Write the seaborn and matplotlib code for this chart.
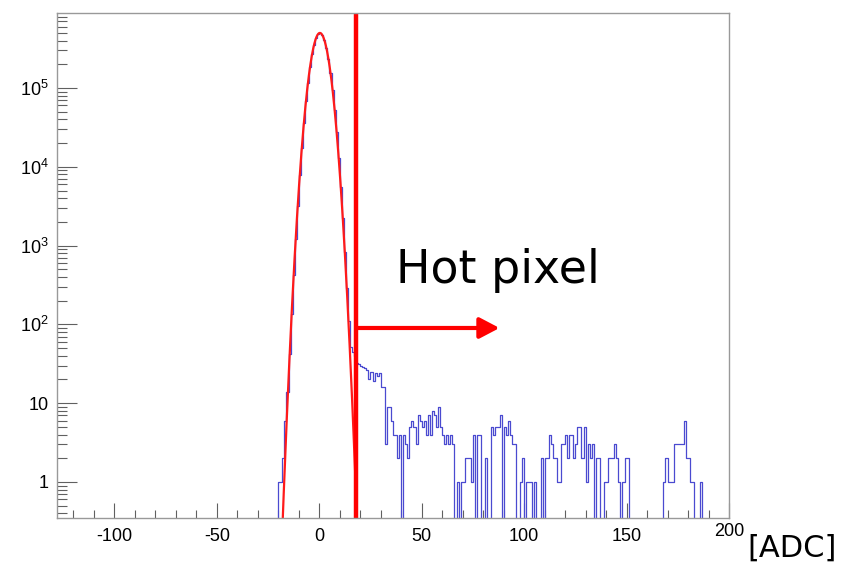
import numpy as np
import pandas as pd
import matplotlib
matplotlib.use("Agg")
import matplotlib.pyplot as plt
import matplotlib.transforms as mtransforms
from matplotlib.ticker import FixedLocator, FixedFormatter, MultipleLocator, LogLocator, NullFormatter
import seaborn as sns

# ---------------- data ----------------
hist_low = -128          # first bin edge [ADC]
hist_high = 200          # last bin edge [ADC]
# bins -128 .. -21 : empty
counts_left = [0] * 108
# bins -20 .. 16 : pedestal peak
counts_core = [1, 1, 2, 6, 14, 42, 135, 420, 1220, 3200, 7900, 17500, 36000,
               67500, 117000, 185000, 268000, 356000, 435000, 486000, 499000,
               470000, 405000, 321000, 233000, 155000, 95000, 53000, 27300,
               12900, 5600, 2220, 820, 290, 110, 52, 45]
# bins 17 .. 199 : hot-pixel tail
counts_tail = ([40, 32, 31, 30, 29, 28, 26, 20, 25, 19, 24, 22, 24, 16, 16] +
               [3, 9, 9, 6, 4, 4, 2, 4, 0, 4, 3, 2, 5, 6, 5, 3, 7, 6, 5] +
               [6, 4, 7, 4, 8, 7, 5, 9, 5, 4, 3, 4, 3, 4, 3, 0, 1, 0, 1, 1] +
               [2, 2, 2, 1, 4, 0, 4, 4, 0, 0, 2, 0, 0, 5, 4, 5, 5, 7, 0, 5] +
               [4, 6, 4, 3, 3, 0, 0, 1, 2, 0, 1, 1, 1, 0, 1, 0, 0, 2, 0, 2] +
               [2, 4, 3, 2, 2, 1, 1, 3, 3, 4, 2, 4, 4, 2, 3, 5, 5, 2, 5, 1] +
               [3, 2, 3, 0, 2, 2, 0, 0, 1, 1, 2, 2, 2, 3, 2, 1, 0, 1, 2, 2] +
               [0] * 17 +
               [1, 2, 1, 1, 1, 3, 3, 3, 3, 3, 6, 2, 2, 1, 1, 0, 0, 0, 1, 0] +
               [0] * 12)

# Gaussian fit parameters
fit_amp = 5.0e5
fit_mean = 0.3
fit_sigma = 3.4
fit_range = (-25, 25)

hot_cut = 18             # threshold line [ADC]
arrow_end = 88
arrow_level = 90

x_ticks = [-100, -50, 0, 50, 100, 150, 200]
y_ticks = [1, 10, 1e2, 1e3, 1e4, 1e5]
y_labels = ["1", "10", r"$\mathregular{10^{2}}$", r"$\mathregular{10^{3}}$",
            r"$\mathregular{10^{4}}$", r"$\mathregular{10^{5}}$"]

# ---------------- style ----------------
sns.set_style("white")
plt.rcParams["font.family"] = ["Liberation Sans", "DejaVu Sans"]
plt.rcParams["mathtext.fontset"] = "custom"
plt.rcParams["mathtext.rm"] = "Liberation Sans"
plt.rcParams["mathtext.it"] = "Liberation Sans:italic"
plt.rcParams["axes.unicode_minus"] = False

fig = plt.figure(figsize=(8.44, 5.64), dpi=100)
ax = fig.add_axes([57 / 844, 46 / 564, 672 / 844, 505 / 564])

counts = np.array(counts_left + counts_core + counts_tail, dtype=float)
edges = np.arange(hist_low, hist_high + 1)
df = pd.DataFrame({"adc": edges[:-1] + 0.5, "n": counts})

sns.histplot(data=df, x="adc", weights="n", binwidth=1, binrange=(hist_low, hist_high),
             element="step", fill=False, color="#4a4ad0", linewidth=0.9, ax=ax)
ax.set_yscale("log", nonpositive="clip")

xf = np.linspace(fit_range[0], fit_range[1], 600)
yf = fit_amp * np.exp(-0.5 * ((xf - fit_mean) / fit_sigma) ** 2)
sns.lineplot(x=xf, y=yf, color="#ff1a1a", linewidth=1.6, ax=ax)

ax.axvline(hot_cut, color="#ff0000", linewidth=3.2)
ax.annotate("", xy=(arrow_end, arrow_level), xytext=(hot_cut, arrow_level),
            arrowprops=dict(arrowstyle="-|>,head_length=0.8,head_width=0.42",
                            color="#ff0000", lw=3, mutation_scale=15,
                            shrinkA=0, shrinkB=0))

ax.text(37.3, 335, "Hot pixel", family="DejaVu Sans", fontsize=33,
        va="baseline", ha="left", color="black")
fig.text(747 / 844, 7 / 564, "[ADC]", family="DejaVu Sans", fontsize=22,
         va="baseline", ha="left", color="black")

ax.set_xlim(hist_low, hist_high)
ax.set_ylim(0.349, 8.95e5)
ax.set_xlabel("")
ax.set_ylabel("")

ax.xaxis.set_major_locator(FixedLocator(x_ticks))
ax.xaxis.set_minor_locator(MultipleLocator(10))
ax.yaxis.set_major_locator(FixedLocator(y_ticks))
ax.yaxis.set_major_formatter(FixedFormatter(y_labels))
ax.yaxis.set_minor_locator(LogLocator(base=10, subs=np.arange(2, 10), numticks=20))
ax.yaxis.set_minor_formatter(NullFormatter())

ax.tick_params(axis="both", which="both", direction="in", top=False, right=False,
               bottom=True, left=True,
               color="#606060", width=0.8, labelsize=13, labelcolor="black")
ax.tick_params(axis="x", which="major", length=11, pad=7)
ax.tick_params(axis="x", which="minor", length=6)
ax.tick_params(axis="y", which="major", length=14.5, pad=6)
ax.tick_params(axis="y", which="minor", length=7.2)

# ROOT places the last x label slightly higher
last_lbl = ax.get_xticklabels()[-1]
last_lbl.set_transform(last_lbl.get_transform() +
                       mtransforms.ScaledTranslation(0, 5 / 100, fig.dpi_scale_trans))

for s in ax.spines.values():
    s.set_color("#999999")
    s.set_linewidth(1.0)
    s.set_visible(True)

fig.savefig("out.png", dpi=100)
